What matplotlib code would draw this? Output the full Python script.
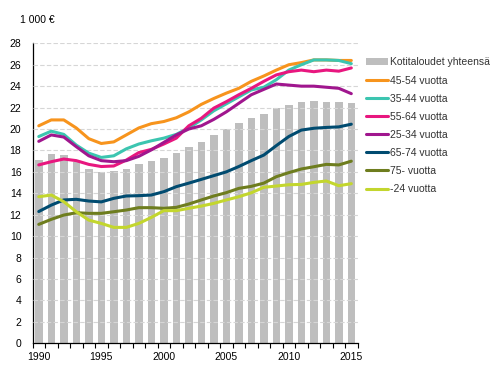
import numpy as np
import matplotlib
matplotlib.use("Agg")
import matplotlib.pyplot as plt

plt.rcParams["font.family"] = ["Liberation Sans", "DejaVu Sans"]

# === Data (1 000 €) ===
years = list(range(1990, 2016))
total = [17.1, 17.7, 17.6, 16.9, 16.3, 16.0, 16.05, 16.3, 16.7, 17.0, 17.3, 17.8, 18.3,
         18.8, 19.4, 20.0, 20.6, 21.05, 21.4, 22.0, 22.25, 22.5, 22.65, 22.55, 22.5, 22.4]
age_45_54 = [20.3, 20.85, 20.85, 20.1, 19.1, 18.65, 18.8, 19.45, 20.1, 20.5, 20.7, 21.05, 21.6,
             22.3, 22.85, 23.35, 23.8, 24.45, 24.95, 25.5, 26.0, 26.2, 26.45, 26.45, 26.4, 26.4]
age_35_44 = [19.3, 19.8, 19.5, 18.5, 17.75, 17.35, 17.5, 18.15, 18.6, 18.9, 19.15, 19.5, 20.1,
             20.85, 21.7, 22.35, 23.0, 23.65, 23.9, 24.6, 25.5, 26.0, 26.45, 26.45, 26.4, 26.1]
age_55_64 = [16.65, 16.95, 17.2, 17.05, 16.7, 16.5, 16.55, 17.1, 17.8, 18.1, 18.6, 19.15, 20.3,
             21.0, 21.95, 22.55, 23.2, 23.8, 24.45, 25.05, 25.35, 25.5, 25.35, 25.5, 25.4, 25.7]
age_25_34 = [18.85, 19.45, 19.25, 18.35, 17.5, 17.05, 16.95, 17.05, 17.45, 18.05, 18.75, 19.45, 20.0,
             20.3, 20.9, 21.6, 22.4, 23.2, 23.7, 24.2, 24.1, 24.0, 24.0, 23.9, 23.8, 23.3]
age_65_74 = [12.3, 12.9, 13.38, 13.44, 13.28, 13.2, 13.53, 13.75, 13.78, 13.84, 14.15, 14.62, 14.95,
             15.3, 15.65, 16.0, 16.5, 17.05, 17.57, 18.45, 19.3, 19.9, 20.07, 20.15, 20.2, 20.45]
age_75 = [11.1, 11.57, 11.97, 12.19, 12.13, 12.13, 12.28, 12.44, 12.66, 12.66, 12.6, 12.69, 13.0,
          13.38, 13.75, 14.06, 14.46, 14.65, 14.95, 15.55, 15.93, 16.27, 16.48, 16.7, 16.65, 17.0]
age_24 = [13.68, 13.84, 13.22, 12.28, 11.5, 11.19, 10.82, 10.82, 11.19, 11.75, 12.38, 12.38, 12.6,
          12.81, 13.06, 13.38, 13.68, 14.05, 14.56, 14.68, 14.8, 14.83, 15.02, 15.15, 14.71, 14.9]

series = [
    ("45-54 vuotta", age_45_54, "#F7941D"),
    ("35-44 vuotta", age_35_44, "#3CC5B0"),
    ("55-64 vuotta", age_55_64, "#E8177F"),
    ("25-34 vuotta", age_25_34, "#A0168E"),
    ("65-74 vuotta", age_65_74, "#004B70"),
    ("75- vuotta", age_75, "#6E7D1E"),
    ("-24 vuotta", age_24, "#C3D62E"),
]

fig = plt.figure(figsize=(4.98, 3.75), dpi=100)
ax = fig.add_axes([0.0653, 0.0845, 0.6527, 0.80])

ax.bar(years, total, width=0.6, color="#BEBEBE", zorder=1, label="Kotitaloudet yhteensä")
for name, vals, col in series:
    ax.plot(years, vals, color=col, linewidth=2.2, solid_joinstyle="round",
            solid_capstyle="round", zorder=3, label=name)

ax.set_xlim(1989.5, 2015.5)
ax.set_ylim(0, 28)
ax.set_yticks(np.arange(0, 29, 2))
ax.set_xticks([1990, 1995, 2000, 2005, 2010, 2015])
ax.set_xticks(np.arange(1989.5, 2016, 1), minor=True)
ax.tick_params(axis="x", which="major", length=0, pad=6, labelsize=7.5)
ax.tick_params(axis="x", which="minor", length=3.5, width=0.8, direction="out")
ax.tick_params(axis="y", length=0, pad=8, labelsize=7.5)

ax.set_axisbelow(False)
ax.yaxis.grid(True, color="#D6D6D6", linewidth=0.8, linestyle=(0, (4, 2)))
for s in ["top", "right"]:
    ax.spines[s].set_visible(False)
ax.spines["left"].set_linewidth(0.9)
ax.spines["bottom"].set_linewidth(0.9)

fig.text(0.04, 0.947, "1 000 €", fontsize=7.5, va="center", ha="left")

handles, labels = ax.get_legend_handles_labels()
order = [len(handles) - 1] + list(range(len(handles) - 1))
leg = fig.legend([handles[i] for i in order], [labels[i] for i in order],
                 loc="upper left", bbox_to_anchor=(0.734, 0.847), frameon=False,
                 fontsize=7.5, handlelength=2.2, handletextpad=0.15,
                 labelspacing=0.78, borderaxespad=0, borderpad=0)
for t in leg.get_texts():
    t.set_color("#333333")

fig.savefig("out.png", dpi=100)
